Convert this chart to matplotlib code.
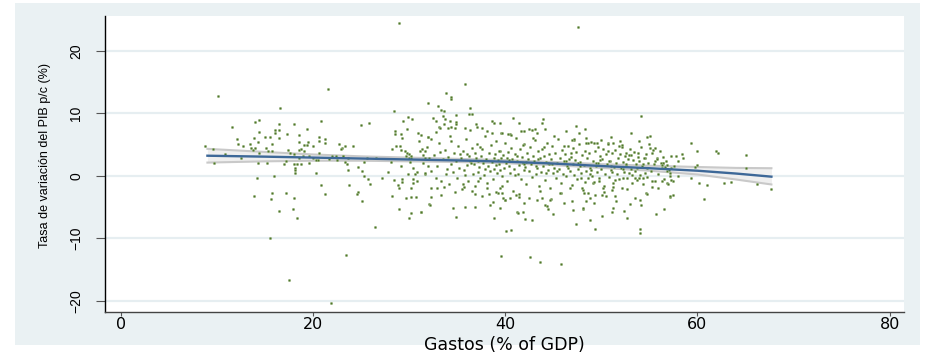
import matplotlib.pyplot as plt
from matplotlib.patches import Rectangle

# --- data (Gastos % of GDP vs. growth of GDP p/c) ---
# sparse left side, x < 24
left_x = [10.1, 21.5, 16.6, 13.9, 14.4, 11.6, 16.5, 18.0, 20.8, 14.4, 16.0, 16.4, 16.0, 19.4, 17.3,
          13.8, 15.0, 15.5, 16.5, 18.5, 20.6, 21.2, 12.1, 14.3, 13.4, 12.2, 12.7, 18.5, 19.5, 20.6,
          15.7, 19.0, 19.4, 20.0, 21.2, 22.7, 8.8, 9.6, 13.5, 14.0, 13.7, 15.1, 15.3, 15.7, 14.4,
          17.4, 17.6, 18.0, 18.5, 18.7, 19.0, 20.6, 10.8, 12.5, 18.5, 18.9, 19.6, 20.0, 20.3, 20.5,
          19.6, 22.5, 23.1, 23.6, 23.5, 9.7, 14.3, 15.2, 17.0, 17.2, 18.0, 18.3, 18.7, 18.1, 18.1,
          18.1, 20.3, 14.2, 15.9, 20.8, 21.2, 15.7, 17.2, 13.8, 15.6, 18.0, 16.5, 17.9, 18.3, 15.5,
          17.5, 21.9]
left_y = [12.75, 13.9, 10.9, 8.6, 8.9, 7.8, 8.3, 8.3, 8.7, 7.0, 7.3, 7.3, 6.9, 7.4, 6.7,
          6.1, 6.2, 6.2, 6.1, 6.5, 6.2, 5.9, 5.8, 5.4, 5.1, 5.0, 4.7, 5.4, 5.4, 5.6,
          5.1, 4.9, 4.9, 4.8, 5.2, 5.1, 4.7, 4.3, 4.4, 4.4, 4.1, 4.4, 4.0, 3.9, 3.6,
          4.1, 3.6, 3.5, 4.1, 4.3, 3.9, 3.6, 3.4, 2.8, 2.9, 3.2, 3.1, 2.8, 2.5, 2.5,
          2.1, 2.5, 3.1, 2.9, 1.9, 2.0, 2.0, 2.0, 1.9, 2.3, 1.8, 1.9, 1.9, 1.3, 0.9,
          0.4, 0.4, -0.3, 0.0, -1.5, -2.9, -2.8, -2.8, -3.3, -3.8, -3.6, -5.7, -5.3, -6.7, -9.9,
          -16.7, -20.4]

# 22 < x < 32
mid_x = [28.9, 32.0, 28.4, 25.0, 25.8, 29.4, 29.9, 30.3, 29.8, 28.5, 28.5, 29.1, 29.2, 30.9, 31.0,
         23.0, 22.9, 23.3, 24.1, 28.6, 29.0, 28.2, 29.1, 29.6, 29.8, 30.0, 30.2, 29.7, 30.0, 31.3,
         31.1, 31.6, 31.4, 32.0, 22.0, 22.4, 23.1, 21.7, 23.3, 25.3, 25.6, 26.5, 28.1, 30.1, 30.2,
         31.6, 32.0, 24.7, 25.1, 25.3, 23.6, 27.8, 29.1, 30.4, 30.8, 30.6, 29.9, 31.6, 27.2, 25.7,
         25.9, 28.4, 29.3, 29.3, 28.8, 28.9, 30.4, 30.8, 30.4, 30.2, 23.7, 24.7, 24.6, 28.2, 29.7,
         30.2, 30.7, 25.1, 28.9, 30.2, 30.0, 31.2, 26.4, 32.1, 23.4]
mid_y = [24.4, 11.6, 10.3, 8.1, 8.4, 8.8, 9.4, 9.0, 7.4, 7.2, 6.6, 6.7, 6.0, 6.9, 5.6,
         4.4, 4.2, 4.8, 4.7, 4.7, 4.7, 4.2, 4.1, 3.9, 3.7, 3.4, 3.1, 3.1, 2.8, 4.2,
         3.9, 3.9, 3.3, 6.2, 3.1, 3.1, 3.1, 2.6, 2.2, 2.2, 2.8, 2.9, 2.2, 2.2, 2.8,
         2.9, 1.6, 1.4, 0.8, -0.1, 0.9, 0.6, 1.6, 1.2, 0.6, 0.3, 0.3, 0.3, -0.4, -0.6,
         -1.3, -0.7, -0.6, -1.0, -1.5, -2.0, -0.5, -0.8, -1.2, -1.9, -1.5, -2.6, -2.9, -3.2, -3.5,
         -3.4, -3.4, -4.1, -5.3, -6.0, -6.8, -5.8, -8.2, -4.6, -12.7]

# scattered points above / below the central cloud, 31 < x < 68
outer_x = [35.8, 33.8, 34.3, 34.4, 36.3, 36.2, 36.5, 33.0, 33.3, 33.6, 34.9, 32.5, 32.8, 33.5, 33.7,
           34.2, 34.9, 33.1, 33.2, 33.6, 34.0, 34.4, 34.9, 34.8, 35.8, 36.3, 37.0, 37.1, 37.6, 38.1,
           38.6, 38.8, 39.4, 39.6, 40.3, 32.8, 32.0, 32.3, 31.2, 31.6, 31.2, 32.2, 32.3, 33.3, 32.3,
           32.9, 33.6, 34.6, 34.9, 35.8, 35.6, 35.7, 36.5, 36.9, 37.2, 37.6, 38.1, 38.4, 38.7, 38.8,
           39.2, 39.0, 39.7, 40.0, 40.1, 39.6, 40.8, 41.4, 43.8, 43.9, 39.7, 40.5, 41.6, 41.9, 42.5,
           42.8, 43.1, 43.3, 44.1, 46.3, 47.4, 47.7, 48.3, 47.2, 46.9, 39.7, 40.0, 39.5, 40.5, 41.1,
           41.4, 41.2, 41.3, 41.8, 41.9, 42.1, 42.8, 43.3, 43.8, 44.1, 44.3, 44.4, 45.0, 44.8, 45.8,
           46.1, 46.7, 47.0, 47.4, 48.1, 48.4, 40.6, 42.6, 43.6, 45.8, 48.6, 47.6, 54.1, 53.1, 51.0,
           50.0, 54.8, 55.1, 48.4, 48.6, 49.2, 50.7, 51.2, 51.8, 52.2, 55.1, 55.6, 52.6, 53.8, 52.9,
           54.5, 55.8, 55.6, 56.4, 56.8, 47.9, 48.3, 49.1, 49.8, 50.2, 51.2, 51.4, 52.3, 53.2, 53.5,
           53.9, 54.3, 55.3, 55.3, 56.3, 57.1, 48.1, 48.8, 49.3, 50.1, 50.5, 51.1, 51.4, 48.2, 51.2,
           51.1, 50.1, 48.8, 49.3, 52.4, 52.7, 53.0, 54.6, 54.0, 54.1, 55.7, 54.0, 54.0, 59.3, 60.0,
           61.9, 62.1, 65.1, 57.8, 58.4, 58.0, 58.5, 56.2, 56.4, 56.3, 56.6, 56.8, 57.3, 57.1, 59.7,
           60.0, 65.1, 57.1, 58.0, 59.3, 56.8, 56.9, 57.5, 57.2, 60.2, 61.0, 62.8, 63.5, 66.2, 67.7,
           57.1, 57.5, 60.7, 56.5]
outer_y = [14.6, 13.2, 12.6, 12.2, 10.9, 9.8, 9.8, 11.2, 10.5, 10.3, 9.7, 9.2, 8.8, 9.5, 9.1,
           8.8, 8.6, 7.8, 7.6, 8.2, 7.6, 7.8, 8.2, 7.7, 7.6, 7.3, 8.3, 7.8, 7.7, 7.2,
           8.8, 8.5, 8.4, 6.8, 6.7, 7.0, 6.2, 5.9, 6.5, 0.4, -5.8, -4.7, -3.4, -3.1, -2.0,
           -2.0, -1.8, -5.1, -6.6, -5.0, -1.4, -1.8, -2.4, -5.0, -0.9, -3.3, -2.0, -4.7, -4.2, -6.7,
           -2.8, -2.6, -1.6, -3.9, -8.8, -12.8, 9.2, 8.5, 8.5, 9.1, 6.9, 6.7, 7.2, 7.2, 7.5,
           7.3, 7.4, 6.8, 7.4, 7.2, 8.0, 6.9, 7.5, 5.7, 5.7, -2.7, -3.9, -5.2, -3.6, -3.1,
           -3.4, -5.8, -5.9, -5.8, -4.3, -6.9, -7.1, -3.9, -3.6, -4.7, -4.8, -5.3, -6.2, -3.8, -2.8,
           -4.4, -2.0, -5.5, -7.7, -5.3, -4.0, -8.7, -13.0, -13.8, -14.1, -2.8, 23.8, 9.6, 6.9, 6.2,
           5.7, 6.2, 6.4, 5.3, 5.3, 5.2, 5.2, 5.2, 4.8, 4.6, 4.4, 4.4, 3.7, 3.7, 3.3,
           2.8, 2.9, 2.4, 2.0, 1.7, -0.4, -1.0, -1.2, -0.4, -2.0, -1.8, -0.7, -0.4, 0.1, -0.4,
           -0.4, -0.4, -0.8, -1.8, -0.8, -3.4, -5.2, -3.6, -3.1, -3.1, -3.2, -2.3, -3.2, -2.8, -5.1,
           -5.8, -6.4, -7.1, -8.5, -5.6, -6.8, -4.6, -2.7, -3.9, -4.7, -6.2, -8.5, -9.1, 5.2, 4.0,
           4.0, 3.6, 3.3, 3.2, 3.4, 2.4, 2.8, 2.0, 2.1, 1.7, 1.4, 0.8, 1.2, 0.4, 1.4,
           1.7, 1.2, 0.0, 0.0, -0.3, -1.2, -1.3, -0.8, -0.7, -1.1, -1.5, -1.2, -1.0, -1.3, -2.2,
           -3.3, -3.1, -3.7, -5.3]

# dense central cloud, 31 < x < 58
core_x = [31.4, 31.9, 32.3, 32.6, 32.9, 33.1, 33.3, 33.5, 33.7, 33.8, 34.0, 34.1, 34.3, 34.4, 34.6,
          34.7, 34.9, 35.0, 35.1, 35.2, 35.4, 35.5, 35.6, 35.7, 35.9, 36.0, 36.1, 36.2, 36.3, 36.5,
          36.6, 36.7, 36.8, 36.9, 37.0, 37.1, 37.2, 37.3, 37.4, 37.5, 37.6, 37.7, 37.8, 37.9, 38.0,
          38.1, 38.2, 38.3, 38.4, 38.5, 38.6, 38.7, 38.8, 38.9, 39.0, 39.1, 39.2, 39.3, 39.4, 39.5,
          39.6, 39.7, 39.8, 39.9, 40.0, 40.1, 40.2, 40.3, 40.4, 40.5, 40.6, 40.7, 40.8, 40.9, 41.0,
          41.1, 41.2, 41.3, 41.4, 41.5, 41.6, 41.7, 41.8, 41.9, 42.0, 42.1, 42.2, 42.3, 42.4, 42.5,
          42.6, 42.7, 42.8, 42.9, 43.0, 43.1, 43.2, 43.3, 43.4, 43.5, 43.6, 43.7, 43.8, 43.9, 44.0,
          44.1, 44.2, 44.3, 44.4, 44.5, 44.6, 44.7, 44.8, 44.9, 45.0, 45.1, 45.2, 45.3, 45.4, 45.5,
          45.6, 45.7, 45.8, 45.9, 46.0, 46.1, 46.2, 46.3, 46.4, 46.5, 46.6, 46.7, 46.8, 46.9, 47.0,
          47.1, 47.2, 47.3, 47.4, 47.5, 47.6, 47.7, 47.8, 47.9, 48.0, 48.1, 48.2, 48.3, 48.4, 48.5,
          48.6, 48.7, 48.8, 48.9, 49.0, 49.1, 49.2, 49.3, 49.4, 49.5, 49.6, 49.7, 49.8, 49.9, 50.0,
          50.1, 50.2, 50.3, 50.4, 50.5, 50.6, 50.7, 50.8, 50.9, 51.0, 51.1, 51.2, 51.3, 51.4, 51.5,
          51.6, 51.7, 51.8, 51.9, 52.0, 52.1, 52.2, 52.3, 52.4, 52.5, 52.6, 52.7, 52.8, 52.9, 53.0,
          53.1, 53.2, 53.3, 53.4, 53.5, 53.6, 53.7, 53.8, 53.9, 54.0, 54.1, 54.2, 54.3, 54.4, 54.5,
          54.6, 54.7, 54.8, 54.9, 55.0, 55.2, 55.3, 55.5, 55.6, 55.8, 55.9, 56.1, 56.3, 56.5, 56.7,
          57.0, 57.3, 57.6,
          32.1, 32.8, 33.2, 33.9, 34.2, 34.8, 35.3, 35.8, 36.4, 36.9, 37.4, 37.9, 38.3, 38.6, 39.0,
          39.3, 39.8, 40.2, 40.6, 41.0, 41.4, 41.8, 42.2, 42.5, 42.9, 43.2, 43.6, 44.0, 44.4, 44.7,
          45.1, 45.4, 45.7, 46.1, 46.5, 46.9, 47.2, 47.6, 48.0, 48.4, 48.8, 49.2, 49.5, 49.9, 50.3,
          50.7, 51.1, 51.5, 51.9, 52.3, 52.7, 53.1, 53.5, 53.9, 54.3, 54.8, 55.4, 55.9, 56.4, 37.2,
          38.8, 40.4, 42.0, 43.4, 44.9, 46.3, 47.8, 49.4, 51.0, 52.6, 53.7, 36.0, 39.5, 41.2, 44.2,
          46.8, 48.9, 50.8]
core_y = [2.1, 4.6, 0.8, 3.3, 1.5, 5.2, -0.9, 2.7, 4.1, 0.2, 3.0, -1.4, 1.9, 5.5, 0.6,
          3.6, 2.3, -0.3, 4.8, 1.2, 2.9, -2.2, 3.9, 0.9, 5.9, 1.7, -0.8, 3.2, 2.4, 4.4,
          0.3, 1.9, -1.6, 3.6, 2.8, 5.1, 0.6, 1.4, -0.4, 3.1, 4.2, 2.0, 0.1, 6.3, 2.6,
          -1.1, 1.5, 3.7, 0.8, 4.9, 2.2, -0.6, 1.1, 3.4, 5.6, 0.4, 2.5, 1.8, -1.9, 4.0,
          2.9, 0.0, 3.3, 1.3, 5.2, 2.0, -0.9, 3.8, 1.6, 0.5, 4.5, 2.7, -2.4, 1.0, 3.5,
          6.0, 2.3, 0.2, 1.7, 4.2, -0.5, 3.0, 2.1, 0.9, 5.0, 1.4, -1.3, 3.6, 2.6, 0.7,
          4.6, 1.9, -0.2, 3.2, 2.4, 5.7, 0.3, 1.2, 3.9, -1.7, 2.8, 0.6, 4.3, 1.6, 3.1,
          -0.7, 2.2, 5.3, 0.9, 1.8, 3.4, -2.0, 2.6, 4.7, 0.4, 1.3, 3.7, -0.4, 2.0, 5.8,
          1.0, 2.9, -1.2, 4.1, 0.2, 2.4, 3.5, -0.1, 1.5, 4.8, 2.7, 0.7, 3.0, -1.5, 1.9,
          4.4, 0.1, 2.5, 3.8, -0.6, 1.1, 5.1, 2.2, 0.5, 3.3, -2.3, 1.7, 4.0, 0.8, 2.8,
          -0.3, 3.6, 1.3, 5.4, 0.0, 2.3, -1.0, 3.9, 1.6, 0.6, 4.6, 2.1, -0.8, 3.1, 1.0,
          2.6, 4.3, -1.6, 0.3, 3.4, 1.8, 5.0, -0.2, 2.4, 0.9, 3.7, -1.2, 1.4, 4.1, 2.0,
          0.2, 2.9, -0.5, 3.5, 1.2, 4.9, -1.9, 2.2, 0.6, 3.2, 1.7, -0.3, 2.7, 0.4, 4.2,
          1.1, -1.1, 2.5, 3.8, 0.8, 1.9, -0.7, 3.0, 2.3, 0.1, 4.6, 1.5, -1.4, 2.8, 0.5,
          3.4, 1.3, -0.2, 2.0, 5.1, 0.7, 3.6, 1.8, -0.9, 2.6, 0.3, 3.9, 1.2, -0.5, 2.4,
          0.9, 3.1, 1.6,
          2.9, -0.4, 3.8, 1.1, 6.4, -2.6, 3.5, 0.1, 2.0, -3.0, 4.6, 1.0, -2.9, 6.9, 1.7,
          3.9, -3.6, 2.8, 6.5, 0.1, -2.9, 4.9, 2.2, -3.5, 6.1, 1.6, -2.5, 4.6, 2.1, -3.9,
          6.3, 0.8, -2.7, 4.7, 1.2, -4.1, 5.9, 2.0, -2.0, 6.1, 0.3, -4.3, 5.2, 2.5, -2.6,
          3.9, 0.6, -4.0, 5.6, 1.0, -2.2, 3.3, -3.6, 5.5, 1.8, -2.9, 4.1, -1.9, 3.0, 2.4,
          2.9, 2.5, 1.8, 2.6, 1.9, 2.3, 1.5, 2.0, 1.6, 1.9, 1.2, 3.5, 0.9, 3.2, 0.5,
          3.7, 0.9, 2.3]

# fitted line with confidence band
fit_x = [9.0, 15.0, 20.0, 25.0, 30.0, 35.0, 40.0, 45.0, 50.0, 55.0, 60.0, 64.0, 67.7]
fit_y = [3.2, 3.05, 2.9, 2.75, 2.6, 2.45, 2.25, 1.95, 1.55, 1.2, 0.8, 0.35, -0.15]
ci_hi = [4.3, 3.8, 3.4, 3.1, 2.9, 2.7, 2.5, 2.2, 1.85, 1.6, 1.4, 1.25, 1.2]
ci_lo = [2.1, 2.3, 2.4, 2.4, 2.3, 2.2, 2.0, 1.7, 1.25, 0.8, 0.2, -0.6, -1.4]

yticks = [-20, -10, 0, 10, 20]
xticks = [0, 20, 40, 60, 80]

fig = plt.figure(figsize=(9.25, 3.56), dpi=100)
fig.patch.set_facecolor('white')
fig.patches.append(Rectangle((15 / 925, 11 / 356), 905 / 925, 342 / 356, transform=fig.transFigure,
                             facecolor='#eaf1f3', edgecolor='none', zorder=-10))

ax = fig.add_axes([105 / 925, 44 / 356, 799 / 925, 296 / 356])
ax.set_facecolor('white')

for yt in yticks:
    ax.axhline(yt, color='#e6eef1', linewidth=1.6, zorder=0)

ax.fill_between(fit_x, ci_lo, ci_hi, color='#efefef', linewidth=0, zorder=1)
ax.plot(fit_x, ci_hi, color='#c9c9c9', linewidth=1.5, zorder=2)
ax.plot(fit_x, ci_lo, color='#c9c9c9', linewidth=1.5, zorder=2)

for xs, ys in [(left_x, left_y), (mid_x, mid_y), (outer_x, outer_y), (core_x, core_y)]:
    ax.scatter(xs, ys, s=3.5, color='#4f7629', edgecolors='#b3c9a0', linewidths=0.3, zorder=3)

ax.plot(fit_x, fit_y, color='#3d6898', linewidth=1.7, zorder=4)

ax.set_xlim(-1.66, 81.5)
ax.set_ylim(-21.8, 25.55)
ax.set_xticks(xticks)
ax.set_yticks(yticks)

for s in ['top', 'right']:
    ax.spines[s].set_visible(False)
ax.spines['left'].set_color('black')
ax.spines['bottom'].set_color('#444444')
ax.spines['left'].set_linewidth(1.0)
ax.spines['bottom'].set_linewidth(1.0)

ax.tick_params(axis='y', length=6.5, width=0.8, pad=9, color='#555555')
ax.tick_params(axis='x', length=3, width=0.8, pad=0.5, color='#555555')
for lab in ax.get_yticklabels():
    lab.set_rotation(90)
    lab.set_va('center')
    lab.set_family('Liberation Sans')
    lab.set_fontsize(10)
for lab in ax.get_xticklabels():
    lab.set_fontsize(11.5)

ax.set_ylabel("Tasa de variación del PIB p/c (%)", fontsize=9, family='Liberation Sans')
ax.yaxis.set_label_coords(-0.068, 0.53)
ax.set_xlabel("Gastos (% of GDP)", fontsize=12.5, va='center')
ax.xaxis.set_label_coords(0.5, -0.11)

fig.savefig('out.png', dpi=100)
